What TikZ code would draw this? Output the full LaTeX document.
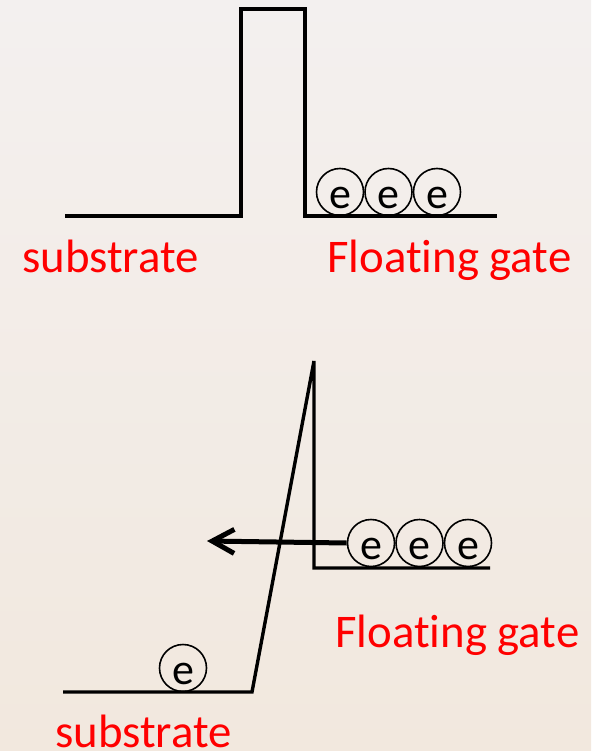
\documentclass[tikz,border=0pt]{standalone}
\usepackage{fontspec}
\setmainfont{Carlito}[Ligatures={NoCommon}]
\usetikzlibrary{arrows.meta}
\definecolor{bgtop}{RGB}{243,240,239}
\definecolor{bgbot}{RGB}{242,232,222}
\definecolor{labelred}{RGB}{255,0,0}
\begin{document}
\begin{tikzpicture}[x=1pt,y=-1pt,
  band/.style={line width=3.4pt,line join=miter},
  electron/.style={circle,draw,line width=1.6pt,minimum size=47pt,inner sep=0pt,
    text height=32pt,text depth=0pt,font=\fontsize{44}{44}\selectfont},
  regionlabel/.style={anchor=base west,inner sep=0pt,text=labelred,
    font=\fontsize{46.8}{50}\selectfont}]
  % page and faint background
  \useasboundingbox (0,0) rectangle (591,751);
  \shade[top color=bgtop,bottom color=bgbot] (0,0) rectangle (591,751);

  % ---- upper band diagram: rectangular oxide barrier ----
  \coordinate (s1l) at (65,216);
  \coordinate (b1bl) at (241,216);
  \coordinate (b1tl) at (241,9);
  \coordinate (b1tr) at (305,9);
  \coordinate (b1br) at (305,216);
  \coordinate (g1r) at (497,216);
  \draw[band] (s1l) -- (b1bl) -- (b1tl) -- (b1tr) -- (b1br) -- (g1r);
  \node[electron] (e1a) at (340,192) {e};
  \node[electron] (e1b) at (388.5,192) {e};
  \node[electron] (e1c) at (437,192) {e};
  \node[regionlabel] (sub1) at (22,272) {substrate};
  \node[regionlabel] (fg1) at (327,272) {Floating gate};

  % ---- lower band diagram: triangular barrier under high field ----
  \coordinate (s2l) at (63,692);
  \coordinate (s2r) at (252,692);
  \coordinate (apex) at (314,361);
  \coordinate (g2c) at (314,568);
  \coordinate (g2r) at (490,568);
  \draw[band] (s2l) -- (s2r) -- (apex) -- (g2c) -- (g2r);
  \node[electron] (e2a) at (371,543) {e};
  \node[electron] (e2b) at (419.5,543) {e};
  \node[electron] (e2c) at (468,543) {e};
  \node[electron] (e3) at (183,668) {e};
  \coordinate (tip) at (207,541);
  \draw[line width=5pt,-{Straight Barb[length=22pt,width=24pt]}] (e2a.west) -- (tip);
  \node[regionlabel] (fg2) at (335,647) {Floating gate};
  \node[regionlabel] (sub2) at (55,747) {substrate};
\end{tikzpicture}
\end{document}
